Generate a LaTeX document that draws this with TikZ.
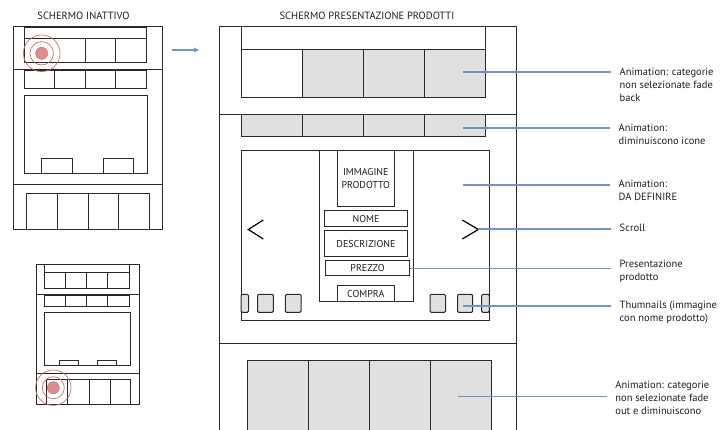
\documentclass[tikz,border=0pt]{standalone}
\usepackage{fontspec}
\setmainfont{PT Sans}
\usetikzlibrary{arrows.meta}
\definecolor{lineGray}{RGB}{40,40,40}
\definecolor{panelFill}{RGB}{224,224,224}
\definecolor{leadBlue}{RGB}{108,148,205}
\definecolor{touchRed}{RGB}{205,110,110}
\definecolor{touchFill}{RGB}{222,140,140}
\definecolor{noteGray}{RGB}{30,30,30}

\begin{document}
\begin{tikzpicture}[
  x=1pt, y=-1pt,
  >=Latex,
  wire/.style={draw=lineGray, line width=1pt},
  panel/.style={wire, fill=panelFill},
  thumb/.style={wire, fill=panelFill, rounded corners=1.2pt},
  btn/.style={wire, inner sep=0pt, text=noteGray, font=\fontsize{10}{12.6}\selectfont},
  title/.style={text=noteGray, font=\fontsize{10.5}{12}\selectfont},
  note/.style={anchor=north west, inner sep=0pt, align=left, text=noteGray,
    font=\fontsize{10.5}{13}\selectfont},
  lead/.style={draw=leadBlue, line width=1.6pt, shorten >=8.5pt},
  chev/.style={draw=black, line width=1.2pt},
  touch/.style={draw=touchRed, line width=0.7pt},
  dot/.style={circle, fill=touchFill, draw=touchRed, line width=0.5pt,
    minimum size=12pt, inner sep=0pt}
]
\useasboundingbox (0,0) rectangle (722,430);
\clip (0,0) rectangle (722,430);

% Inactive screen, tap on the top bar.
\node[title] (idleTitle) at (83.5,16) {SCHERMO INATTIVO};
\draw[wire] (13,27) rectangle (162,230);
\draw[wire] (24,27.3) rectangle (146,62.7);
\draw[wire] (24,38.3) -- (146,38.3);
\foreach \x in {85,115} \draw[wire] (\x,38.3) -- (\x,62.7);
\draw[wire] (13,70) -- (162,70);
\draw[wire] (24,70.7) rectangle (146,89);
\foreach \x in {54,85,115} \draw[wire] (\x,70.7) -- (\x,89);
\draw[wire] (24,96) rectangle (147.7,173.3);
\draw[wire] (41.7,158.3) rectangle (72.7,173.3);
\draw[wire] (103.3,158.3) rectangle (133.3,173.3);
\draw[wire] (13,185) -- (162,185);
\draw[wire] (26.7,193.3) rectangle (149,230);
\foreach \x in {57.3,88.3,118.3} \draw[wire] (\x,193.3) -- (\x,230);
\node[dot] (tapTop) at (41.7,53.3) {};
\draw[touch] (tapTop) circle (11.7) (tapTop) circle (18.3);

% Inactive screen, tap on the bottom bar.
\draw[wire] (36.7,264) rectangle (139.3,404.3);
\draw[wire] (44.3,264) rectangle (129.3,288.3);
\draw[wire] (44.3,272.3) -- (129.3,272.3);
\foreach \x in {65.7,86.7,107.7} \draw[wire] (\x,272.3) -- (\x,288.3);
\draw[wire] (36.7,294.3) -- (139.3,294.3);
\draw[wire] (44.3,295.7) rectangle (129.3,306.7);
\foreach \x in {65.7,86.7,107.7} \draw[wire] (\x,295.7) -- (\x,306.7);
\draw[wire] (44.3,312) rectangle (130,365.7);
\draw[wire] (59.3,360) rectangle (78.7,365.7);
\draw[wire] (97,360) rectangle (116.3,365.7);
\draw[wire] (36.7,373.3) -- (139.3,373.3);
\draw[wire] (46.7,379.3) rectangle (130.7,404.3);
\foreach \x in {67.7,89,110} \draw[wire] (\x,379.3) -- (\x,404.3);
\node[dot] (tapBottom) at (53.3,387.7) {};
\draw[touch] (tapBottom) circle (11) (tapBottom) circle (17.7);

% Transition to the product screen.
\coordinate (goFrom) at (171.7,50);
\coordinate (goTo) at (199.5,50);
\draw[draw=leadBlue, line width=1.6pt, -{Latex[length=5.5pt,width=5.5pt]}] (goFrom) -- (goTo);

% Product presentation screen.
\node[title] (shopTitle) at (367,16) {SCHERMO PRESENTAZIONE PRODOTTI};
\draw[wire] (219,432) -- (219,26.7) -- (516,26.7) -- (516,432);
\draw[wire] (241,26.7) rectangle (485.7,97.7);
\draw[panel] (302,49.3) rectangle (485.7,97.7);
\draw[wire] (241,49.3) -- (485.7,49.3);
\foreach \x in {363.3,424.3} \draw[wire] (\x,49.3) -- (\x,97.7);
\draw[wire] (219,114.3) -- (516,114.3);
\draw[panel] (241,114.3) rectangle (485.7,136.7);
\foreach \x in {302,363.3,424.3} \draw[wire] (\x,114.3) -- (\x,136.7);

% Carousel with the product card.
\draw[wire] (241,151) rectangle (489.3,320.7);
\draw[wire] (319.3,151) rectangle (413.3,301.7);
\node[btn, minimum width=57pt, minimum height=55.7pt, align=center] (imgBox)
  at (365.8,178.8) {IMMAGINE\\PRODOTTO};
\node[btn, minimum width=83.4pt, minimum height=15.7pt] (nameBox) at (366,218.8) {NOME};
\node[btn, minimum width=83.4pt, minimum height=25.7pt] (descBox) at (366,243.8) {DESCRIZIONE};
\node[btn, minimum width=83.6pt, minimum height=15.3pt] (priceBox) at (367.5,268.3) {PREZZO};
\node[btn, minimum width=57pt, minimum height=15.7pt] (buyBox) at (365.8,293.8) {COMPRA};
\draw[chev] (263.3,220) -- (248.3,229.5) -- (263.3,239);
\draw[chev] (462.3,220) -- (478.3,229.5) -- (462.3,239);
\coordinate (nextTip) at (478.3,229);

% Thumbnails.
\draw[thumb] (241,294.3) rectangle (248.5,312.3);
\draw[thumb] (257.5,294.3) rectangle (273.3,312.3);
\draw[thumb] (285.3,294.3) rectangle (301,312.3);
\draw[thumb] (430,294.3) rectangle (445.5,312.3);
\draw[thumb] (457.5,294.3) rectangle (472.7,312.3);
\draw[thumb] (481.7,294.3) rectangle (489.3,312.3);

% Bottom categories.
\draw[wire] (219,343.3) -- (516,343.3);
\draw[panel] (247.3,360.7) rectangle (491.7,434);
\foreach \x in {308.3,369.3,430} \draw[wire] (\x,360.7) -- (\x,434);

% Notes.
\node[note] (noteFade) at (619.5,68) {Animation: categorie\\non selezionate fade\\back};
\node[note] (noteIcons) at (618.5,123.6) {Animation:\\diminuiscono icone};
\node[note] (noteTbd) at (618.5,180.3) {Animation:\\DA DEFINIRE};
\node[note] (noteScroll) at (619.5,224.3) {Scroll};
\node[note] (noteCard) at (619.5,259.6) {Presentazione\\prodotto};
\node[note] (noteThumb) at (619.5,300.6) {Thumnails (immagine\\con nome prodotto)};
\node[note] (noteShrink) at (615.2,380.6) {Animation: categorie\\non selezionate fade\\out e diminuiscono};

\coordinate (fadeAt) at (463.3,72.3);
\coordinate (iconsAt) at (463.3,128);
\coordinate (tbdAt) at (463.3,185);
\coordinate (thumbAt) at (463.3,306);
\coordinate (shrinkAt) at (458.3,396.5);
\draw[lead] (fadeAt) -- (fadeAt -| noteFade.west);
\draw[lead] (iconsAt) -- (iconsAt -| noteIcons.west);
\draw[lead] (tbdAt) -- (tbdAt -| noteTbd.west);
\draw[lead] (nextTip) -- (nextTip -| noteScroll.west);
\draw[lead] (priceBox.east) -- (priceBox.east -| noteCard.west);
\draw[lead] (thumbAt) -- (thumbAt -| noteThumb.west);
\draw[lead] (shrinkAt) -- (shrinkAt -| noteShrink.west);

\end{tikzpicture}
\end{document}
